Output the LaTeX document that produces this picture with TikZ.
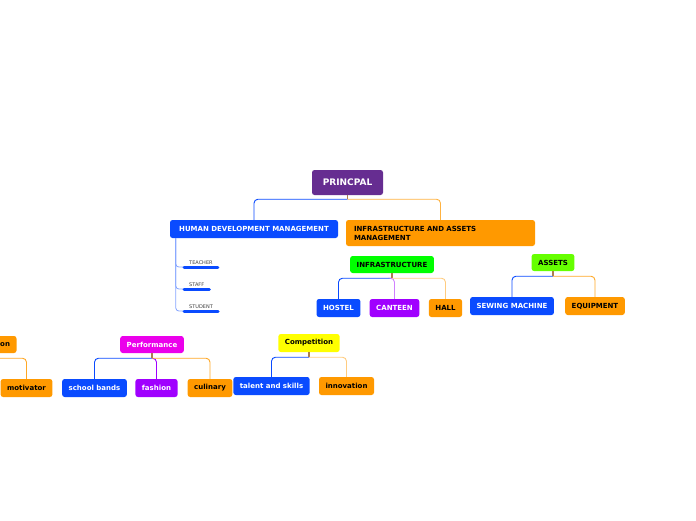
\documentclass[tikz,border=0pt]{standalone}
\usepackage{fontspec}
\setmainfont{DejaVu Sans}
\usepackage{xcolor}
\usetikzlibrary{positioning, calc}

\definecolor{mmpurple}{RGB}{102,45,145}
\definecolor{mmblue}{RGB}{10,75,255}
\definecolor{mmorange}{RGB}{255,153,0}
\definecolor{mmgreen}{RGB}{0,255,0}
\definecolor{mmlime}{RGB}{102,255,0}
\definecolor{mmviolet}{RGB}{160,0,255}
\definecolor{mmmagenta}{RGB}{235,0,235}
\definecolor{mmyellow}{RGB}{255,255,0}
\definecolor{mmstem}{RGB}{170,125,80}

\begin{document}
\begin{tikzpicture}[x=1pt, y=-1pt,
    topic/.style={rounded corners=2.5pt, inner xsep=6.5pt, inner ysep=0pt,
        minimum height=18pt, font=\fontsize{7}{8}\selectfont\bfseries},
    light/.style={topic, text=black},
    dark/.style={topic, text=white},
    subtopic/.style={inner xsep=5pt, inner ysep=2.5pt, text=black!75,
        font=\fontsize{5}{6}\selectfont},
    bar/.style={mmblue, line width=3pt, line cap=round},
    link/.style={line width=0.9pt, rounded corners=4pt},
    stem/.style={mmstem, line width=1.2pt}]

\clip (0,0) rectangle (696,520);

% Helper macro for a parent-to-child connector
% Arguments: parent, child, colour, drop below parent
\def\branch#1#2#3#4{
    \draw[stem] (#1.south) -- ++(0,#4);
    \draw[link, #3] (#1.south) ++(0,#4) -| (#2.north);
}

% Central topic
\node[dark, fill=mmpurple, minimum height=25pt, minimum width=71pt,
    font=\fontsize{9}{10}\selectfont\bfseries] (princpal) at (347.5,182.5) {PRINCPAL};

% Main topics
\node[dark, fill=mmblue, minimum width=168pt] (hdm) at (254,229) {HUMAN DEVELOPMENT MANAGEMENT};
\node[light, fill=mmorange, text width=173pt, align=left, inner xsep=8pt,
    minimum height=26pt, font=\fontsize{7}{9}\selectfont\bfseries] (iam) at (440.5,233)
    {INFRASTRUCTURE AND ASSETS\\MANAGEMENT};

% Human development subtopics
\node[subtopic, anchor=south west] (teacher) at (184,267) {TEACHER};
\node[subtopic, anchor=south west] (staff) at (184,289) {STAFF};
\node[subtopic, anchor=south west] (student) at (184,311) {STUDENT};

% Infrastructure and assets
\node[light, fill=mmgreen, minimum height=17pt] (infra) at (392,264.5) {INFRASTRUCTURE};
\node[light, fill=mmlime, minimum height=17pt] (assets) at (553,262.5) {ASSETS};
\node[dark, fill=mmblue] (hostel) at (338.5,308) {HOSTEL};
\node[dark, fill=mmviolet] (canteen) at (394.5,308) {CANTEEN};
\node[light, fill=mmorange] (hall) at (445.5,308) {HALL};
\node[dark, fill=mmblue] (sewing) at (512,306) {SEWING MACHINE};
\node[light, fill=mmorange] (equipment) at (595,306) {EQUIPMENT};

% Lower floating topics
\node[light, fill=mmorange, text width=46pt, align=right, minimum height=17pt] (on) at (-13,344.5) {on};
\node[light, fill=mmorange] (motivator) at (26.5,388) {motivator};
\node[dark, fill=mmmagenta, minimum height=17pt] (performance) at (152,344.5) {Performance};
\node[dark, fill=mmblue] (bands) at (94.5,388) {school bands};
\node[dark, fill=mmviolet] (fashion) at (156.5,388) {fashion};
\node[light, fill=mmorange] (culinary) at (210,388) {culinary};
\node[light, fill=mmyellow] (competition) at (309,343) {Competition};
\node[dark, fill=mmblue] (talent) at (271.5,386) {talent and skills};
\node[light, fill=mmorange] (innovation) at (346.5,386) {innovation};

% Connectors
\branch{princpal}{hdm}{mmblue}{4}
\branch{princpal}{iam}{mmorange!75}{4}
\branch{infra}{hostel}{mmblue}{5}
\branch{infra}{canteen}{mmviolet!50}{5}
\branch{infra}{hall}{mmorange!50}{5}
\branch{assets}{sewing}{mmblue}{5}
\branch{assets}{equipment}{mmorange!85}{5}
\branch{on}{motivator}{mmorange!85}{5}
\branch{performance}{bands}{mmblue}{5}
\branch{performance}{fashion}{mmviolet}{5}
\branch{performance}{culinary}{mmorange!85}{5}
\branch{competition}{talent}{mmblue}{5}
\branch{competition}{innovation}{mmorange!50}{5}

% Subtopic lines and underlines
\foreach \s in {teacher, staff, student}{
    \draw[link, mmblue!50, line width=0.8pt, rounded corners=3pt]
        ($(hdm.south west)+(6,0)$) |- (\s.south west);
    \draw[bar] (\s.south west) -- (\s.south east);
}

\end{tikzpicture}
\end{document}
